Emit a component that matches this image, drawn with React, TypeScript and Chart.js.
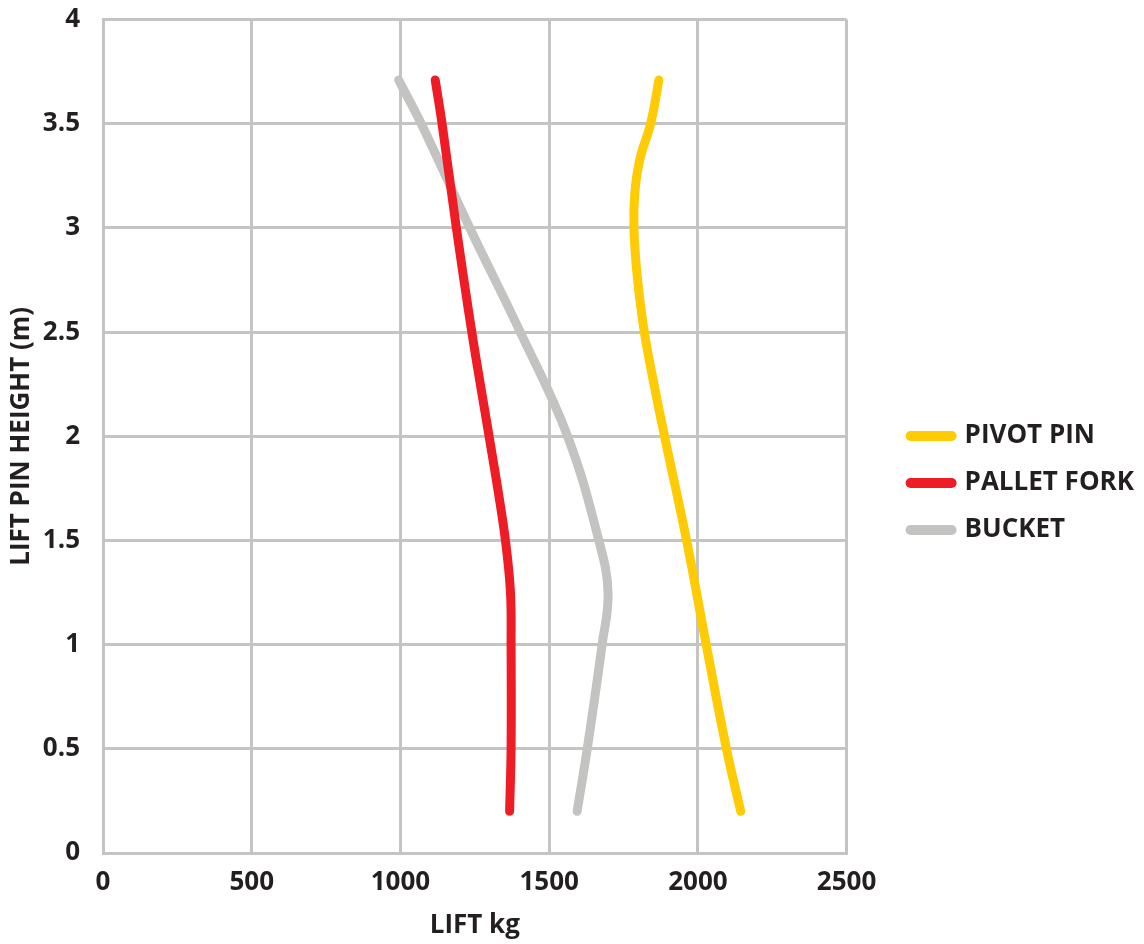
import { useEffect, useRef } from 'react';
import { Chart, registerables } from 'chart.js';

Chart.register(...registerables);

// ---- data ----
const seriesNames = ['PIVOT PIN', 'PALLET FORK', 'BUCKET'];
const seriesColors = ['#FFCB05', '#EE1C25', '#C3C3C2'];

const pivotLift = [2144, 2096, 2028, 1962, 1888, 1858, 1820, 1796, 1785, 1788, 1805, 1841, 1869];
const pivotHeight = [0.2, 0.5, 1.0, 1.5, 2.0, 2.21, 2.5, 2.77, 3.0, 3.17, 3.33, 3.5, 3.71];

const palletLift = [1367, 1372, 1372, 1370, 1353, 1327, 1298, 1240, 1188, 1140, 1117];
const palletHeight = [0.2, 0.5, 1.0, 1.25, 1.5, 1.75, 2.0, 2.5, 3.0, 3.5, 3.71];

const bucketLift = [1594, 1628, 1678, 1698, 1667, 1562, 1403, 1233, 1070, 994];
const bucketHeight = [0.2, 0.5, 1.0, 1.25, 1.5, 2.0, 2.5, 3.0, 3.5, 3.71];

const xTickValues = [0, 500, 1000, 1500, 2000, 2500];
const yTickValues = [0, 0.5, 1, 1.5, 2, 2.5, 3, 3.5, 4];

const xTitle = 'LIFT kg';
const yTitle = 'LIFT PIN HEIGHT (m)';

const TEXT = '#231F20';
const GRID = '#C4C4C4';
const FONT = "'Open Sans', 'DejaVu Sans', sans-serif";

function toPoints(xs: number[], ys: number[]) {
  return xs.map((x, i) => ({ x, y: ys[i] }));
}

export default function App() {
  const ref = useRef<HTMLCanvasElement | null>(null);

  useEffect(() => {
    if (!ref.current) return;
    const seriesX = [pivotLift, palletLift, bucketLift];
    const seriesY = [pivotHeight, palletHeight, bucketHeight];
    const chart = new Chart(ref.current, {
      type: 'scatter',
      data: {
        datasets: seriesNames.map((name, i) => ({
          label: name,
          data: toPoints(seriesX[i], seriesY[i]),
          showLine: true,
          borderColor: seriesColors[i],
          backgroundColor: seriesColors[i],
          borderWidth: 9,
          borderCapStyle: 'round',
          borderJoinStyle: 'round',
          tension: 0.4,
          pointRadius: 0,
          pointHoverRadius: 0,
          fill: false,
        })),
      },
      options: {
        animation: false,
        responsive: true,
        maintainAspectRatio: false,
        events: [],
        layout: { padding: 0 },
        plugins: {
          tooltip: { enabled: false },
          legend: {
            position: 'right',
            align: 'center',
            maxWidth: 400,
            title: { display: true, text: '', font: { size: 9, lineHeight: 1 }, padding: 6 },
            labels: {
              usePointStyle: true,
              pointStyleWidth: 41,
              boxHeight: 10,
              padding: 21,
              color: TEXT,
              font: { family: FONT, size: 26, weight: 'bold' },
              generateLabels: (c: any) =>
                c.data.datasets.map((ds: any, i: number) => ({
                  text: ds.label,
                  fillStyle: ds.borderColor,
                  strokeStyle: ds.borderColor,
                  lineWidth: 10,
                  lineCap: 'round',
                  pointStyle: 'line',
                  hidden: false,
                  datasetIndex: i,
                  fontColor: TEXT,
                })),
            },
          },
        },
        scales: {
          x: {
            type: 'linear',
            min: 0,
            max: 2500,
            afterBuildTicks: (s: any) => {
              s.ticks = xTickValues.map((v) => ({ value: v }));
            },
            afterFit: (s: any) => {
              s.height = 88;
            },
            grid: { color: GRID, lineWidth: 3, drawTicks: true, tickLength: 14, tickColor: 'rgba(0,0,0,0)' },
            border: { display: true, color: GRID, width: 3 },
            ticks: {
              padding: 0,
              color: TEXT,
              font: { family: FONT, size: 26, weight: 'bold' },
              maxRotation: 0,
              callback: (v: any) => String(v),
            },
            title: {
              display: true,
              text: xTitle,
              color: TEXT,
              font: { family: FONT, size: 26, weight: 'bold' },
              padding: { top: 0, bottom: 0 },
            },
          },
          y: {
            type: 'linear',
            min: 0,
            max: 4,
            afterBuildTicks: (s: any) => {
              s.ticks = yTickValues.map((v) => ({ value: v }));
            },
            afterFit: (s: any) => {
              s.width = 103;
            },
            grid: { color: GRID, lineWidth: 3, drawTicks: true, tickLength: 23, tickColor: 'rgba(0,0,0,0)' },
            border: { display: true, color: GRID, width: 3 },
            ticks: {
              padding: 0,
              color: TEXT,
              font: { family: FONT, size: 26, weight: 'bold' },
              callback: (v: any) => String(v),
            },
            title: {
              display: true,
              text: yTitle,
              color: TEXT,
              font: { family: FONT, size: 26, weight: 'bold' },
              padding: { top: 6, bottom: 0 },
            },
          },
          y2: {
            type: 'linear',
            position: 'right',
            display: true,
            grid: { display: false, drawTicks: false },
            border: { display: false },
            ticks: { display: false },
            afterFit: (s: any) => {
              s.width = 43;
            },
          },
        },
      } as any,
    });
    return () => chart.destroy();
  }, []);

  return (
    <div style={{ position: 'absolute', left: 0, top: 4, width: 1144, height: 937 }}>
      <canvas ref={ref} />
    </div>
  );
}
